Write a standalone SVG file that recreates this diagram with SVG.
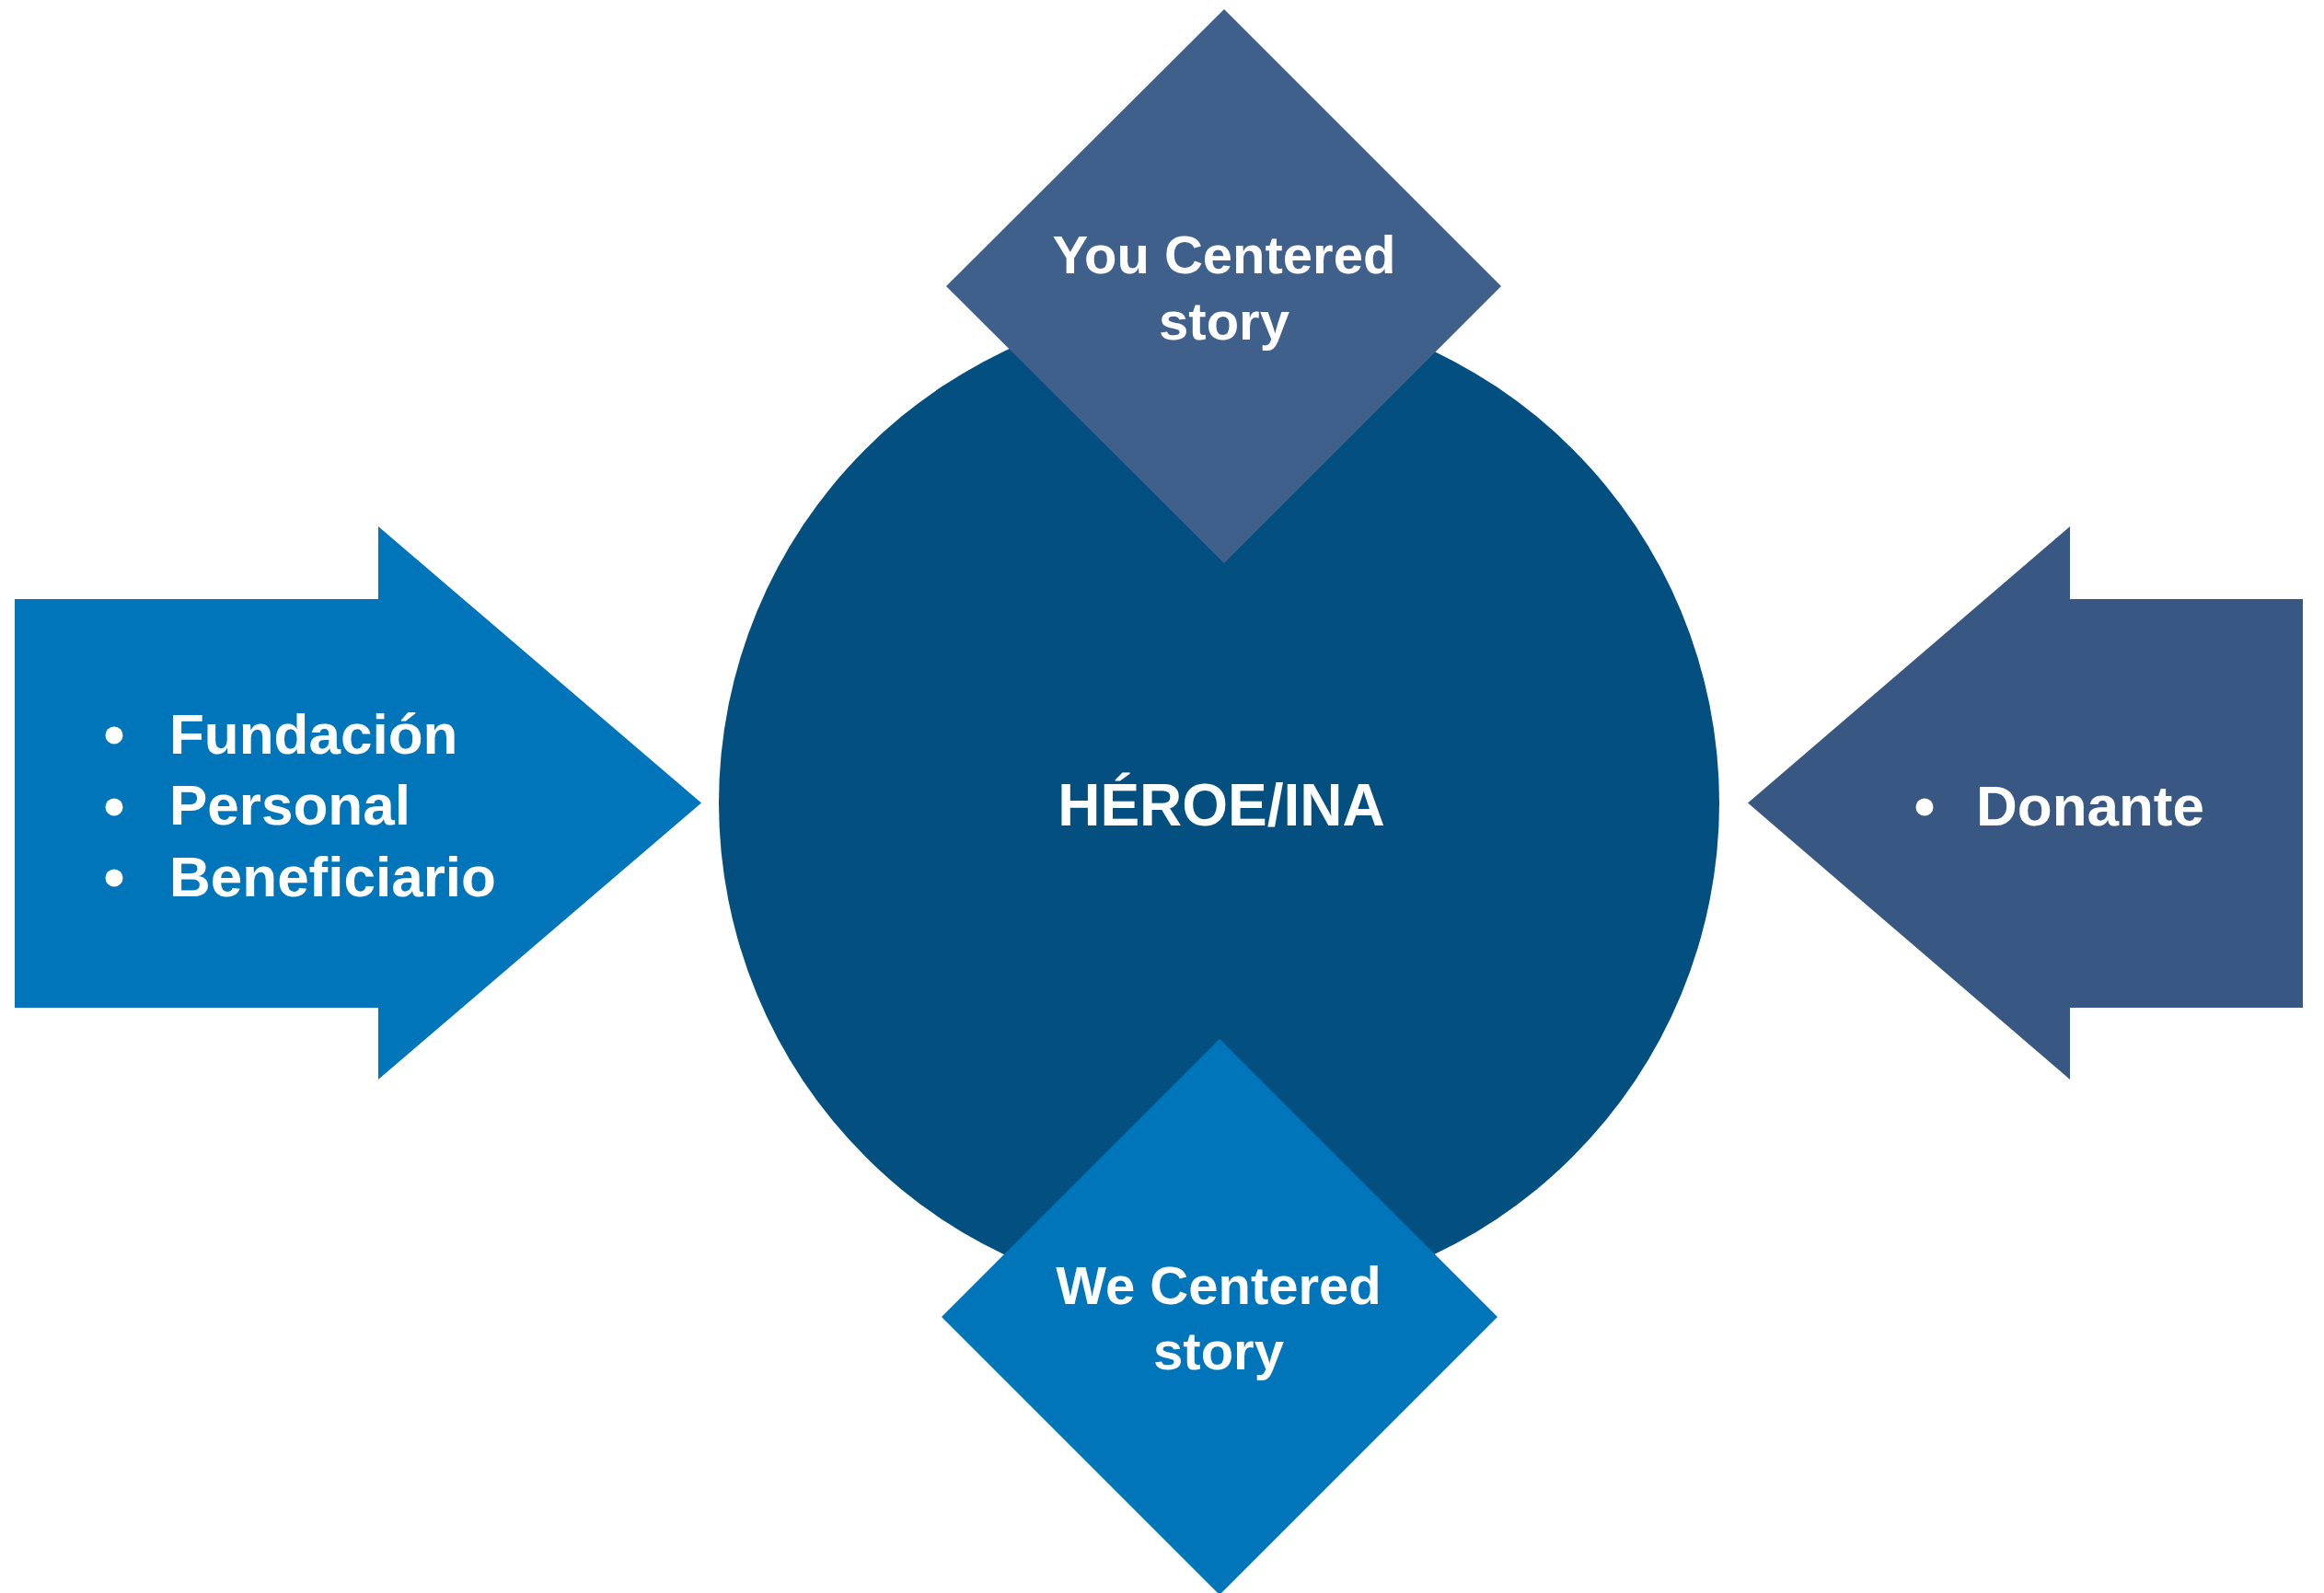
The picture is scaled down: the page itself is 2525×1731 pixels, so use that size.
<svg xmlns="http://www.w3.org/2000/svg" width="2525" height="1731" viewBox="0 0 2525 1731">
<style>
.t{font-family:"Liberation Sans",Arial,Helvetica,sans-serif;font-weight:bold;fill:#ffffff}
.l{font-size:62px}
.d{font-size:58px;text-anchor:middle}
.c{font-size:64px;text-anchor:middle}
.b{fill:#ffffff}
</style>
<rect width="2525" height="1731" fill="#ffffff"/>
<g id="connectors"></g>
<g id="heroe">
<circle cx="1324.5" cy="872.5" r="543.5" fill="#024F80"/>
<text class="t c" x="1327" y="897">HÉROE/INA</text>
</g>
<g id="you-centered">
<polygon points="1330,10 1631,311 1330,612 1028,311" fill="#40608C"/>
<text class="t d" x="1330" y="297">You Centered</text>
<text class="t d" x="1330" y="369">story</text>
</g>
<g id="we-centered">
<polygon points="1325,1129 1627,1431 1325,1733 1023,1431" fill="#0075BA"/>
<text class="t d" x="1324" y="1417">We Centered</text>
<text class="t d" x="1324" y="1488">story</text>
</g>
<g id="left-arrow">
<polygon points="16,651 411,651 411,572 762,872.5 411,1173 411,1095 16,1095" fill="#0075BA"/>
<circle class="b" cx="124" cy="799" r="9.5"/>
<circle class="b" cx="124" cy="877" r="9.5"/>
<circle class="b" cx="124" cy="954" r="9.5"/>
<text class="t l" x="184" y="819">Fundación</text>
<text class="t l" x="184" y="896">Personal</text>
<text class="t l" x="184" y="974">Beneficiario</text>
</g>
<g id="right-arrow">
<polygon points="2502,651 2249,651 2249,572 1899,872.5 2249,1173 2249,1095 2502,1095" fill="#385782"/>
<circle class="b" cx="2091" cy="877" r="9.5"/>
<text class="t l" x="2147" y="897">Donante</text>
</g>
</svg>
